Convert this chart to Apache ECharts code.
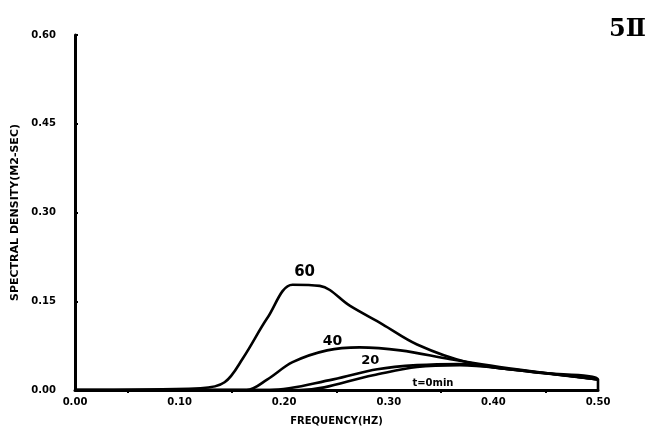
<!DOCTYPE html>
<html><head><meta charset="utf-8">
<script src="https://cdn.jsdelivr.net/npm/echarts@6/dist/echarts.min.js"></script>
<style>html,body{margin:0;padding:0;background:#fff}#c{width:657px;height:431px}</style>
</head><body><div id="c"></div>
<script>
const xTicks = [0.00, 0.10, 0.20, 0.30, 0.40, 0.50];
const yTicks = [0.00, 0.15, 0.30, 0.45, 0.60];
const t60 = [[0,0],[0.12,0.003],[0.143,0.013],[0.161,0.055],[0.184,0.122],[0.208,0.178],[0.234,0.176],[0.263,0.142],[0.294,0.111],[0.327,0.077],[0.375,0.047],[0.438,0.030],[0.5,0.018],[0.5,0]];
const t40 = [[0,0],[0.164,0],[0.184,0.018],[0.208,0.047],[0.241,0.067],[0.272,0.072],[0.311,0.067],[0.359,0.052],[0.406,0.039],[0.5,0.018]];
const t20 = [[0,0],[0.186,0],[0.247,0.018],[0.289,0.035],[0.327,0.042],[0.368,0.044],[0.406,0.037],[0.5,0.018]];
const t0 = [[0,0],[0.215,0],[0.285,0.025],[0.327,0.039],[0.368,0.042],[0.416,0.035],[0.5,0.018]];
const seriesNames = ['60','40','20','t=0min'];
const labelIdx = [5, 5, 3, 4];

const chart = echarts.init(document.getElementById('c'));
const font = 'DejaVu Sans';
function mk(name, data, li, pos, off, fs){
  return {
    type:'line', name, smooth:0.35, symbol:'none',
    lineStyle:{color:'#000', width:2.6},
    data: data,
    markPoint:{
      symbol:'circle', symbolSize:0, silent:true,
      data:[{coord:data[li], label:{show:true, formatter:name, position:pos, offset:off, color:'#000', fontFamily:font, fontWeight:'bold', fontSize:fs}}]
    }
  };
}
chart.setOption({
  animation:false,
  title:{text:'5Ⅱ', right:6, top:13, textStyle:{fontFamily:'DejaVu Serif', fontWeight:'bold', fontSize:24, color:'#000'}},
  grid:{left:75, right:59, top:35, bottom:38},
  xAxis:{type:'value', min:0, max:0.5, interval:0.1,
    name:'FREQUENCY(HZ)', nameLocation:'middle', nameGap:26,
    nameTextStyle:{fontFamily:font, fontWeight:'bold', fontSize:10, color:'#000'},
    axisLine:{lineStyle:{color:'#000', width:3}},
    axisTick:{show:false},
    minorTick:{show:true, splitNumber:2, length:3, lineStyle:{color:'#000', width:2}},
    splitLine:{show:false},
    axisLabel:{fontFamily:font, fontWeight:'bold', fontSize:10, color:'#000', margin:7,
      formatter:v=>v.toFixed(2)}},
  yAxis:{type:'value', min:0, max:0.6, interval:0.15,
    name:'SPECTRAL DENSITY(M2-SEC)', nameLocation:'middle', nameGap:50,
    nameTextStyle:{fontFamily:font, fontWeight:'bold', fontSize:11, color:'#000'},
    axisLine:{show:true, lineStyle:{color:'#000', width:3}},
    axisTick:{show:true, inside:true, length:3, lineStyle:{color:'#000', width:2}},
    splitLine:{show:false},
    axisLabel:{fontFamily:font, fontWeight:'bold', fontSize:10, color:'#000', margin:19,
      formatter:v=>v.toFixed(2)}},
  series:[
    mk(seriesNames[0], t60, labelIdx[0], 'top', [12,0], 15),
    mk(seriesNames[1], t40, labelIdx[1], 'top', [-27,6], 14),
    mk(seriesNames[2], t20, labelIdx[2], 'top', [-7,3], 13),
    mk(seriesNames[3], t0, labelIdx[3], 'bottom', [-27,8], 10)
  ]
});
</script></body></html>
